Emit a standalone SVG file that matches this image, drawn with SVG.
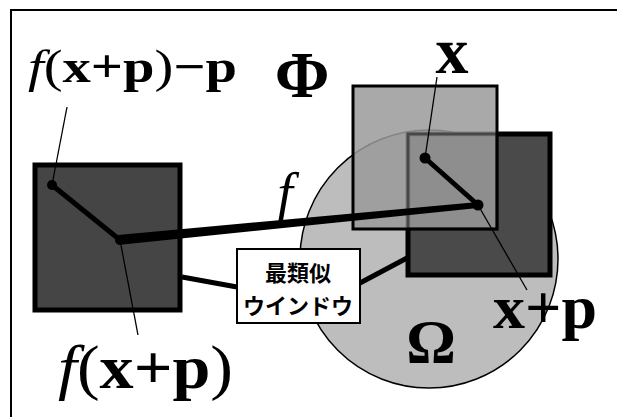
<svg xmlns="http://www.w3.org/2000/svg" width="617" height="417" viewBox="0 0 617 417">
<style>
.math{font-family:'Liberation Serif',serif;fill:#000}
.it{font-style:italic;font-weight:normal}
.bd{font-weight:bold}
.thin{stroke:#000;stroke-width:1.3;fill:none}
.thick{stroke:#000;stroke-width:5;fill:none}
.dot{fill:#000}
.jp{font-family:"Noto Sans CJK JP",sans-serif;font-size:22px;font-weight:bold;fill:#000;text-anchor:middle}
</style>
<rect width="617" height="417" fill="#fff"/>
<rect x="11" y="10" width="620" height="420" fill="none" stroke="#000" stroke-width="2"/>

<g id="omega-region">
<circle cx="429" cy="259" r="129" fill="#bdbdbd" stroke="#000" stroke-width="1.5"/>
<text class="math bd" font-family="Liberation Serif" x="431" y="362" font-size="62" text-anchor="middle">Ω</text>
</g>

<g id="window-left">
<rect x="35" y="165" width="145" height="145" fill="#454545" stroke="#000" stroke-width="5"/>
</g>

<g id="window-best">
<rect x="408" y="134" width="142" height="141" fill="#4a4a4a" stroke="#000" stroke-width="5"/>
</g>

<g id="window-x">
<rect x="353" y="86" width="144" height="143" fill="#9a9a9a" fill-opacity="0.85" stroke="#000" stroke-width="3"/>
<rect x="408" y="134" width="89" height="95" fill="none" stroke="#000" stroke-opacity="0.45" stroke-width="3"/>
</g>

<g id="label-box">
<rect x="237" y="249" width="123" height="74" fill="#fff" stroke="#000" stroke-width="2"/>
<text class="jp" x="298" y="281">最類似</text>
<text class="jp" x="298" y="314">ウインドウ</text>
</g>

<g id="connectors">
<line class="thin" x1="67" y1="107" x2="52" y2="185"/>
<line class="thin" x1="120" y1="240" x2="138" y2="335"/>
<line class="thin" x1="437" y1="77" x2="425" y2="158"/>
<line class="thin" x1="478" y1="205" x2="527" y2="290"/>
<line class="thick" x1="52" y1="185" x2="120" y2="240" stroke-width="4"/>
<line class="thick" x1="425" y1="158" x2="478" y2="205" stroke-width="4"/>
<polygon points="118,235 478,202 478,208 118,245" fill="#000"/>
<line class="thick" x1="182" y1="277" x2="237" y2="287"/>
<line class="thick" x1="360" y1="283" x2="407" y2="258"/>
<circle class="dot" cx="52" cy="185" r="5"/>
<circle class="dot" cx="120" cy="240" r="5"/>
<circle class="dot" cx="425" cy="158" r="5.5"/>
<circle class="dot" cx="478" cy="205" r="5.5"/>
</g>

<g id="labels">
<text class="math" font-family="Liberation Serif" x="28" y="82" font-size="46" textLength="209" lengthAdjust="spacingAndGlyphs"><tspan class="it">f</tspan><tspan>(</tspan><tspan class="bd">x+p</tspan><tspan>)</tspan><tspan class="bd">−p</tspan></text>
<text class="math bd" font-family="Liberation Serif" x="302" y="97" font-size="66" text-anchor="middle">Φ</text>
<text class="math bd" font-family="Liberation Serif" x="452" y="73" font-size="66" text-anchor="middle">x</text>
<text class="math it" font-family="Liberation Serif" x="285" y="212" font-size="56" text-anchor="middle">f</text>
<text class="math" font-family="Liberation Serif" x="58" y="388" font-size="62" textLength="175" lengthAdjust="spacingAndGlyphs"><tspan class="it">f</tspan><tspan>(</tspan><tspan class="bd">x+p</tspan><tspan>)</tspan></text>
<text class="math bd" font-family="Liberation Serif" x="493" y="328" font-size="62" textLength="104" lengthAdjust="spacingAndGlyphs">x+p</text>
</g>
</svg>
